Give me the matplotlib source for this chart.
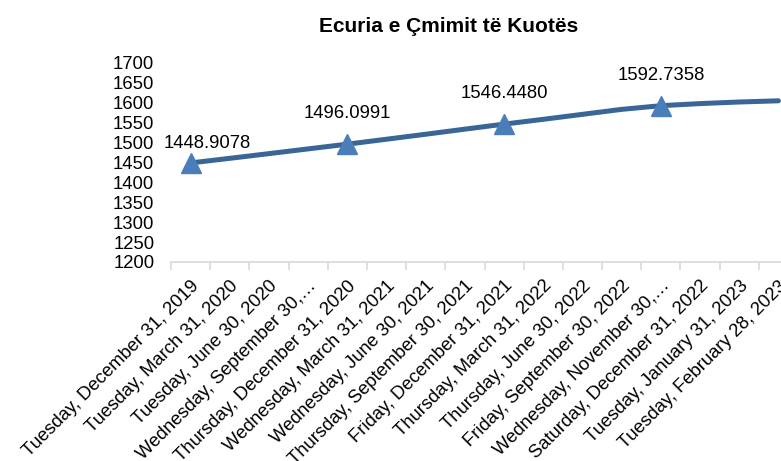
import matplotlib.pyplot as plt

plt.rcParams['font.family'] = ['Liberation Sans', 'DejaVu Sans']

# categories (dates) and quote price
dates = ["Tuesday, December 31, 2019", "Tuesday, March 31, 2020",
         "Tuesday, June 30, 2020", "Wednesday, September 30,\u2026",
         "Thursday, December 31, 2020", "Wednesday, March 31, 2021",
         "Wednesday, June 30, 2021", "Thursday, September 30, 2021",
         "Friday, December 31, 2021", "Thursday, March 31, 2022",
         "Thursday, June 30, 2022", "Friday, September 30, 2022",
         "Wednesday, November 30,\u2026", "Saturday, December 31, 2022",
         "Tuesday, January 31, 2023", "Tuesday, February 28, 2023"]
prices = [1448.9078, 1460.5, 1472.3, 1484.2, 1496.0991, 1508.5, 1521.0,
          1533.8, 1546.4480, 1558.5, 1571.0, 1583.5, 1592.7358, 1598.0,
          1602.0, 1605.0]
marked = [0, 4, 8, 12]

fs = 13.3

fig = plt.figure(figsize=(7.81, 4.61), dpi=100)
# plot area runs past the right edge, like the original
ax = fig.add_axes([171/781, 199/461, 627/781, 199/461])

x = list(range(len(dates)))
ax.plot(x, prices, color='#3A6597', linewidth=3.6, solid_capstyle='round', zorder=2)
ax.plot([x[i] for i in marked], [prices[i] for i in marked], linestyle='none',
        marker='^', markersize=14, color='#4A7EBB', zorder=3)

for k, i in enumerate(marked):
    off = (12, 14) if k == 0 else (0, 22)
    ax.annotate(f"{prices[i]:.4f}", (x[i], prices[i]), xytext=off,
                textcoords='offset points', ha='center', va='center', fontsize=fs)

ax.set_xlim(-0.5, len(dates) - 0.5)
ax.set_ylim(1200, 1700)
ax.set_yticks(range(1200, 1701, 50))
ax.set_xticks(x)
ax.set_xticklabels(dates, rotation=45, ha='right', rotation_mode='anchor', fontsize=fs)
ax.set_xticks([i - 0.5 for i in range(len(dates) + 1)], minor=True)
ax.tick_params(axis='x', which='major', length=0, pad=11)
ax.tick_params(axis='x', which='minor', length=6, color='#D9D9D9', width=1.2)
ax.tick_params(axis='y', length=0, labelsize=fs, pad=12)

for s in ['top', 'right', 'left']:
    ax.spines[s].set_visible(False)
ax.spines['bottom'].set_color('#D9D9D9')
ax.spines['bottom'].set_linewidth(1.2)

fig.text(449/781, 1 - 26/461, "Ecuria e Çmimit të Kuotës", ha='center', va='center',
         fontsize=15, fontweight='bold')

fig.savefig('out.png', dpi=100)
